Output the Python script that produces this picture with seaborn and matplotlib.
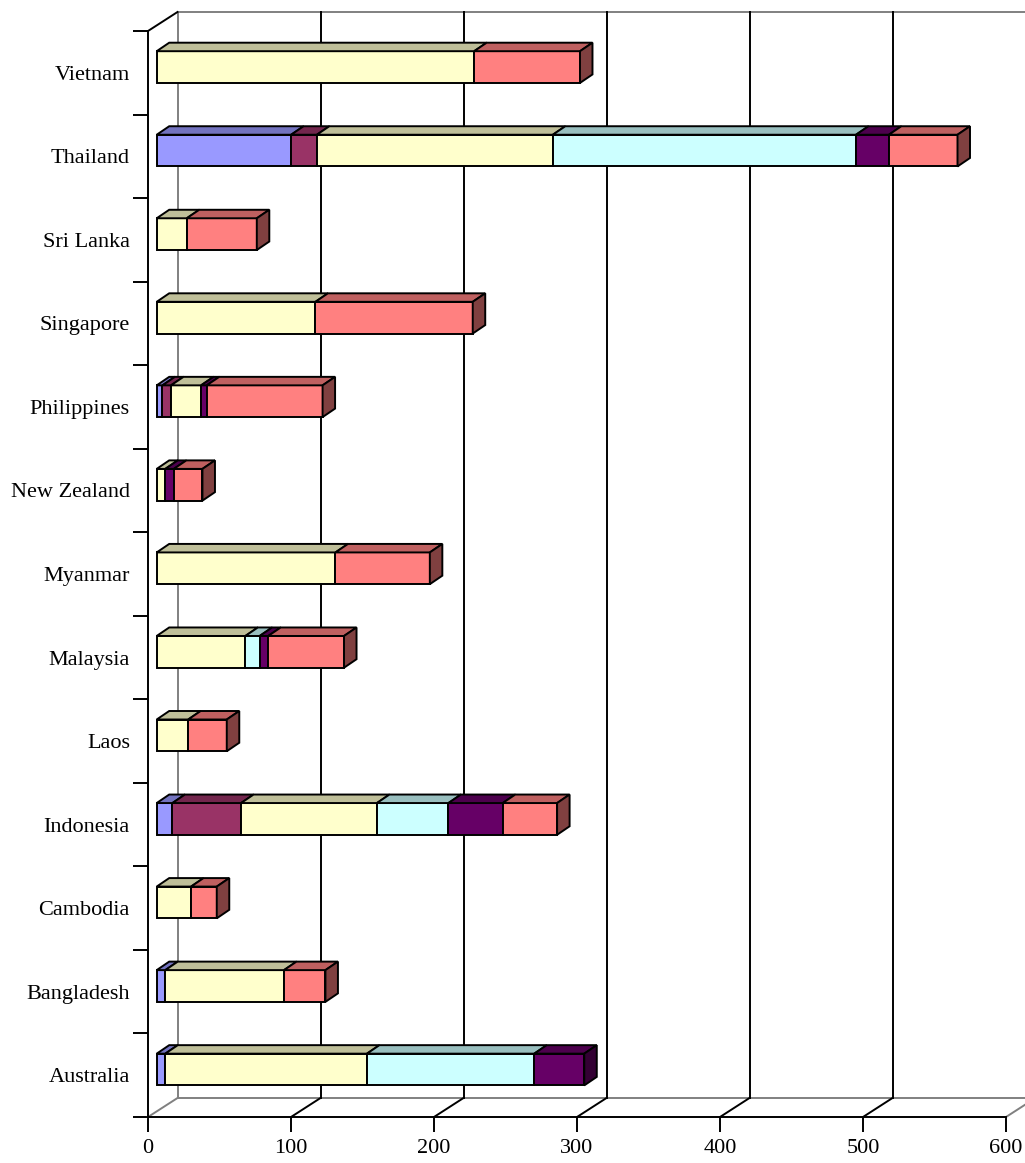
import numpy as np
import pandas as pd
import matplotlib
matplotlib.use("Agg")
import matplotlib.pyplot as plt
from matplotlib.colors import to_rgb
from matplotlib.patches import Polygon
import seaborn as sns

# ---- data -------------------------------------------------------------
countries = ["Australia", "Bangladesh", "Cambodia", "Indonesia", "Laos",
             "Malaysia", "Myanmar", "New Zealand", "Philippines", "Singapore",
             "Sri Lanka", "Thailand", "Vietnam"]
series_1 = [6, 6, 0, 11, 0, 0, 0, 0, 4, 0, 0, 94, 0]
series_2 = [0, 0, 0, 48, 0, 0, 0, 0, 6, 0, 0, 18, 0]
series_3 = [141, 83, 24, 95, 22, 62, 125, 6, 21, 111, 21, 165, 222]
series_4 = [117, 0, 0, 50, 0, 10, 0, 0, 0, 0, 0, 212, 0]
series_5 = [35, 0, 0, 38, 0, 6, 0, 6, 4, 0, 0, 23, 0]
series_6 = [0, 29, 18, 38, 27, 53, 66, 20, 81, 110, 49, 48, 74]
series_colors = ["#9999FF", "#993366", "#FFFFCC", "#CCFFFF", "#660066", "#FF8080"]
x_ticks = [0, 100, 200, 300, 400, 500, 600]

# ---- style ------------------------------------------------------------
sns.set_theme(style="white")
plt.rcParams["font.family"] = ["Liberation Serif", "DejaVu Serif"]

W, H = 1025, 1163
fig = plt.figure(figsize=(W / 100, H / 100), dpi=100)
ax = fig.add_axes([148 / W, (H - 1117) / H, 858 / W, 1086 / H])

XMAX = x_ticks[-1]
NCAT = len(countries)
PX_X = 858 / XMAX      # pixels per value unit
PX_Y = 1086 / NCAT     # pixels per category slot


def ux(p):
    return p / PX_X


def uy(p):
    return p / PX_Y


def shade(color, k):
    r, g, b = to_rgb(color)
    return (r * k, g * k, b * k)


order = countries[::-1]          # first row at the top
table = pd.DataFrame({
    "s1": series_1, "s2": series_2, "s3": series_3,
    "s4": series_4, "s5": series_5, "s6": series_6,
}, index=countries).loc[order]

# oblique projection offsets
BAR_OFF = (ux(8.7), uy(5.7))     # bar front plane behind the axis plane
BAR_DEPTH = (ux(12.5), uy(8.5))  # depth of each bar
WALL = (ux(29.5), uy(19.0))      # depth of the floor / side wall

LW = 1.4

# ---- stacked bars ------------------------------------------------------
left = np.zeros(NCAT)
row_end = {}
tops = []
for col, color in zip(table.columns, series_colors):
    vals = table[col].to_numpy(float)
    n0 = len(ax.patches)
    sns.barplot(x=vals, y=order, order=order, orient="y", color=color,
                saturation=1, width=0.38, errorbar=None, left=left + BAR_OFF[0],
                edgecolor="black", linewidth=LW, zorder=3, ax=ax)
    for p in ax.patches[n0:]:
        p.set_y(p.get_y() - BAR_OFF[1])
        p.set_joinstyle("miter")
        row = int(round(p.get_y() + BAR_OFF[1] + p.get_height() / 2))
        if vals[row] <= 0:
            p.set_visible(False)
            continue
        x0, x1 = p.get_x(), p.get_x() + p.get_width()
        yt, yb = p.get_y(), p.get_y() + p.get_height()
        tops.append(([(x0, yt), (x1, yt), (x1 + BAR_DEPTH[0], yt - BAR_DEPTH[1]),
                      (x0 + BAR_DEPTH[0], yt - BAR_DEPTH[1])], shade(color, 0.75)))
        row_end[row] = (x1, yt, yb, color)
    left += vals

for verts, fc in tops:
    ax.add_patch(Polygon(verts, closed=True, facecolor=fc, edgecolor="black",
                         linewidth=LW, joinstyle="miter", zorder=3, clip_on=False))
for row, (x1, yt, yb, color) in row_end.items():
    verts = [(x1, yt), (x1 + BAR_DEPTH[0], yt - BAR_DEPTH[1]),
             (x1 + BAR_DEPTH[0], yb - BAR_DEPTH[1]), (x1, yb)]
    ax.add_patch(Polygon(verts, closed=True, facecolor=shade(color, 0.5),
                         edgecolor="black", linewidth=LW, joinstyle="miter",
                         zorder=3, clip_on=False))

# ---- walls, floor and gridlines ------------------------------------------
GRAY = "#808080"
y_top, y_bot = -0.5, NCAT - 0.5
by_top, by_bot = y_top - WALL[1], y_bot - WALL[1]
line_kw = dict(linewidth=LW, clip_on=False, solid_capstyle="projecting")

ax.plot([WALL[0], WALL[0]], [by_top, by_bot], color=GRAY, zorder=1, **line_kw)
ax.plot([WALL[0], XMAX + WALL[0]], [by_top, by_top], color=GRAY, zorder=1, **line_kw)
ax.plot([WALL[0], XMAX + WALL[0]], [by_bot, by_bot], color=GRAY, zorder=1, **line_kw)
ax.plot([0, WALL[0]], [y_top, by_top], color="black", zorder=1, **line_kw)
for v in x_ticks:
    edge = v in (x_ticks[0], x_ticks[-1])
    c = GRAY if edge else "black"
    if not edge:
        ax.plot([v + WALL[0]] * 2, [by_top, by_bot], color="black", zorder=1, **line_kw)
    ax.plot([v, v + WALL[0]], [y_bot, by_bot], color=c, zorder=1, **line_kw)

# ---- axes ---------------------------------------------------------------
ax.set_xlim(0, XMAX)
ax.set_ylim(y_bot, y_top)
ax.set_xlabel("")
ax.set_ylabel("")
ax.set_xticks(x_ticks)
ax.set_xticklabels([str(v) for v in x_ticks])
ax.set_yticks(range(NCAT))
ax.set_yticklabels(order)
ax.set_yticks(np.arange(-0.5, NCAT), minor=True)
ax.tick_params(axis="x", which="major", bottom=True, direction="out", length=11,
               width=LW, pad=5, labelsize=16, colors="black")
ax.tick_params(axis="y", which="major", left=False, length=0, pad=13,
               labelsize=16, colors="black")
ax.tick_params(axis="y", which="minor", left=True, direction="out", length=11,
               width=LW, color="black")
for s in ("top", "right"):
    ax.spines[s].set_visible(False)
for s in ("left", "bottom"):
    ax.spines[s].set_color("black")
    ax.spines[s].set_linewidth(LW)
ax.set_facecolor("white")
ax.grid(False)

fig.savefig("out.png", dpi=100, facecolor="white")
